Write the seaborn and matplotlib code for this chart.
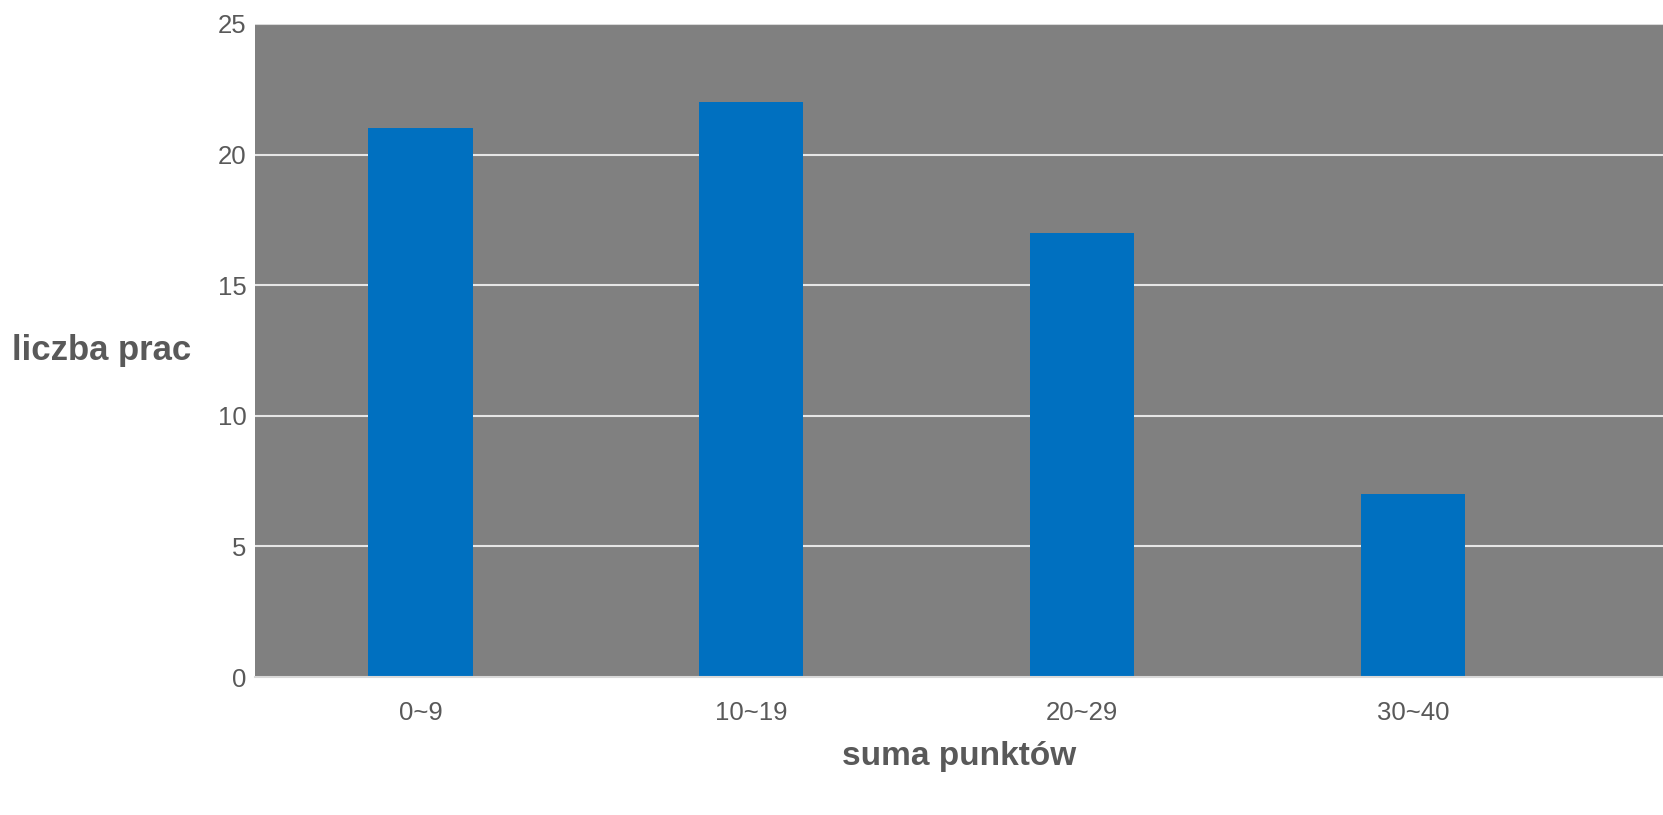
import matplotlib
matplotlib.use("Agg")
import matplotlib.pyplot as plt
import seaborn as sns
import pandas as pd

# dane z wykresu
przedzialy = ["0~9", "10~19", "20~29", "30~40"]
liczba_prac = [21, 22, 17, 7]
yticks = [0, 5, 10, 15, 20, 25]

df = pd.DataFrame({"suma punktów": przedzialy, "liczba prac": liczba_prac})

sns.set_style("white")
plt.rcParams["font.family"] = ["Liberation Sans", "DejaVu Sans"]

fig = plt.figure(figsize=(16.63, 8.15), dpi=100)
ax = fig.add_axes([0.1533, 0.1693, 0.8467, 0.8013])
ax.set_facecolor("#808080")

sns.barplot(data=df, x="suma punktów", y="liczba prac", color="#0070C0",
            width=0.315, saturation=1, linewidth=0, edgecolor="none", ax=ax, zorder=3)

ax.set_xlim(-0.5, 3.755)
ax.set_ylim(0, 25)
ax.set_yticks(yticks)
for y in yticks[1:]:
    ax.axhline(y, color="#d9d9d9" if y == 25 else "#e6e6e6", lw=1.5, zorder=1)

for s in ["top", "right", "left"]:
    ax.spines[s].set_visible(False)
ax.spines["bottom"].set_color("#d9d9d9")
ax.spines["bottom"].set_linewidth(1.5)
ax.spines["bottom"].set_zorder(4)

ax.tick_params(axis="both", length=0, labelsize=18.5, labelcolor="#595959")
ax.tick_params(axis="x", pad=17)
ax.tick_params(axis="y", pad=6)

ax.set_xlabel("suma punktów", fontsize=24, fontweight="bold", color="#595959", labelpad=12)
ax.set_ylabel("liczba prac", fontsize=25, fontweight="bold", color="#595959",
              rotation=0, ha="right", va="center")
ax.yaxis.set_label_coords(-0.045, 0.5)

fig.savefig("out.png", dpi=100)
